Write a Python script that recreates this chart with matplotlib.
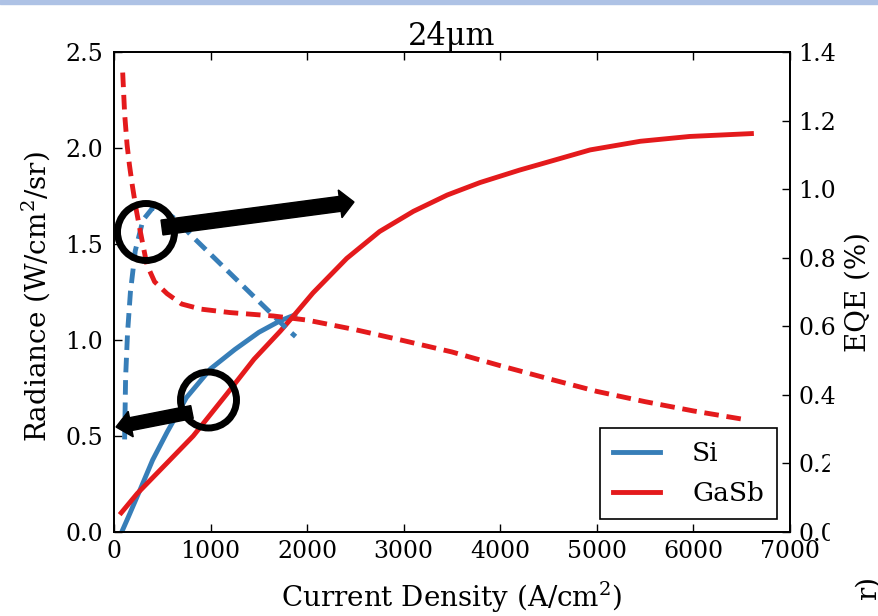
import matplotlib
matplotlib.use("Agg")
import matplotlib.pyplot as plt
from matplotlib.patches import Circle, FancyArrow, Rectangle

plt.rcParams['font.family'] = ['DejaVu Serif']
plt.rcParams['mathtext.fontset'] = 'dejavuserif'

blue = '#377eb8'
red = '#e41a1c'

# Si: radiance (left axis) and EQE (right axis)
current_si = [80, 150, 270, 400, 550, 750, 1000, 1250, 1500, 1720, 1870]
radiance_si = [0.0, 0.08, 0.22, 0.375, 0.52, 0.70, 0.85, 0.95, 1.04, 1.10, 1.13]
current_si_eqe = [110, 120, 140, 170, 220, 300, 400, 500, 650, 800, 1000,
                  1200, 1400, 1600, 1800, 1880]
eqe_si = [0.27, 0.45, 0.58, 0.70, 0.82, 0.91, 0.945, 0.94, 0.91, 0.865, 0.81,
          0.755, 0.70, 0.645, 0.59, 0.57]

# GaSb
current_gasb = [75, 240, 550, 820, 1170, 1450, 1720, 1850, 2060, 2410, 2750,
                3100, 3450, 3790, 4200, 4410, 4930, 5450, 5960, 6600]
radiance_gasb = [0.10, 0.20, 0.36, 0.50, 0.72, 0.90, 1.045, 1.12, 1.245, 1.425,
                 1.565, 1.67, 1.755, 1.82, 1.885, 1.915, 1.99, 2.035, 2.06, 2.075]
current_gasb_eqe = [90, 110, 135, 160, 190, 230, 270, 340, 420, 550, 700, 900,
                    1200, 1650, 2000, 2500, 3000, 3500, 4000, 4500, 5000, 5500,
                    6000, 6550]
eqe_gasb = [1.34, 1.22, 1.13, 1.07, 1.01, 0.94, 0.88, 0.78, 0.73, 0.695, 0.665,
            0.65, 0.64, 0.63, 0.618, 0.59, 0.558, 0.525, 0.485, 0.447, 0.41,
            0.38, 0.353, 0.327]

xticks = [0, 1000, 2000, 3000, 4000, 5000, 6000, 7000]
left_ticks = [0.0, 0.5, 1.0, 1.5, 2.0, 2.5]
right_ticks = [0.0, 0.2, 0.4, 0.6, 0.8, 1.0, 1.2, 1.4]

fig = plt.figure(figsize=(8.79, 6.16), dpi=100)
ax = fig.add_axes([0.1297, 0.1364, 0.7691, 0.7792])
ax2 = ax.twinx()

l_si, = ax.plot(current_si, radiance_si, color=blue, lw=3.5, label='Si')
l_gasb, = ax.plot(current_gasb, radiance_gasb, color=red, lw=3.5, label='GaSb')
ax2.plot(current_si_eqe, eqe_si, color=blue, lw=3.5, ls='--', dashes=(3.0, 1.6))
ax2.plot(current_gasb_eqe, eqe_gasb, color=red, lw=3.5, ls='--', dashes=(3.0, 1.6))

ax.set_xlim(0, 7000)
ax.set_ylim(0, 2.5)
ax2.set_ylim(0, 1.4)
ax.set_xticks(xticks)
ax.set_yticks(left_ticks)
ax2.set_yticks(right_ticks)
ax.set_yticklabels(['%.1f' % v for v in left_ticks])
ax2.set_yticklabels(['%.1f' % v for v in right_ticks])

ax.tick_params(axis='x', direction='in', top=True, length=6, width=1,
               labelsize=17, pad=6)
ax.tick_params(axis='y', direction='in', length=6, width=1, labelsize=17, pad=8)
ax2.tick_params(axis='y', direction='in', length=6, width=1, labelsize=17, pad=6)
for a in (ax, ax2):
    for s in a.spines.values():
        s.set_linewidth(1.3)

ax.set_title('24μm', fontsize=22, pad=5)
ax.set_xlabel('Current Density (A/cm$^2$)', fontsize=20)
ax.set_ylabel('Radiance (W/cm$^2$/sr)', fontsize=20)
ax2.set_ylabel('EQE (%)', fontsize=20)
ax.xaxis.set_label_coords(0.5, -0.1)
ax.yaxis.set_label_coords(-0.092, 0.49)
ax2.yaxis.set_label_coords(1.081, 0.5)

leg = ax2.legend([l_si, l_gasb], ['Si', 'GaSb'], loc='lower right',
                 bbox_to_anchor=(0.981, 0.027), borderaxespad=0, fontsize=19,
                 fancybox=False, framealpha=1, edgecolor='black',
                 handlelength=1.8, handletextpad=1.2, labelspacing=0.55,
                 borderpad=0.5)
leg.get_frame().set_linewidth(1.2)

# slide decorations: annotation circles and arrows (positions in inches)
tr = fig.dpi_scale_trans
fig.add_artist(Circle((1.46, 3.84), 0.285, fill=False, lw=5, ec='black',
                      transform=tr, zorder=10))
fig.add_artist(Circle((2.085, 2.16), 0.28, fill=False, lw=5, ec='black',
                      transform=tr, zorder=10))
fig.add_artist(FancyArrow(1.62, 3.885, 1.92, 0.255, width=0.15, head_width=0.28,
                          head_length=0.14, length_includes_head=True,
                          color='black', transform=tr, zorder=10))
fig.add_artist(FancyArrow(1.92, 2.04, -0.76, -0.15, width=0.13, head_width=0.26,
                          head_length=0.15, length_includes_head=True,
                          color='black', transform=tr, zorder=10))

# top bar of the slide, cropped right tick labels and stray text
fig.add_artist(Rectangle((0, 612 / 616), 1, 4 / 616, color='#aec2e5',
                         transform=fig.transFigure, zorder=10))
fig.add_artist(Rectangle((830 / 879, 71 / 616), 49 / 879, 100 / 616,
                         color='white', transform=fig.transFigure, zorder=10))
fig.text(868 / 879, 40 / 616, 'r)', rotation=90, ha='center', va='top',
         fontsize=20)

fig.savefig('out.png', dpi=100)
